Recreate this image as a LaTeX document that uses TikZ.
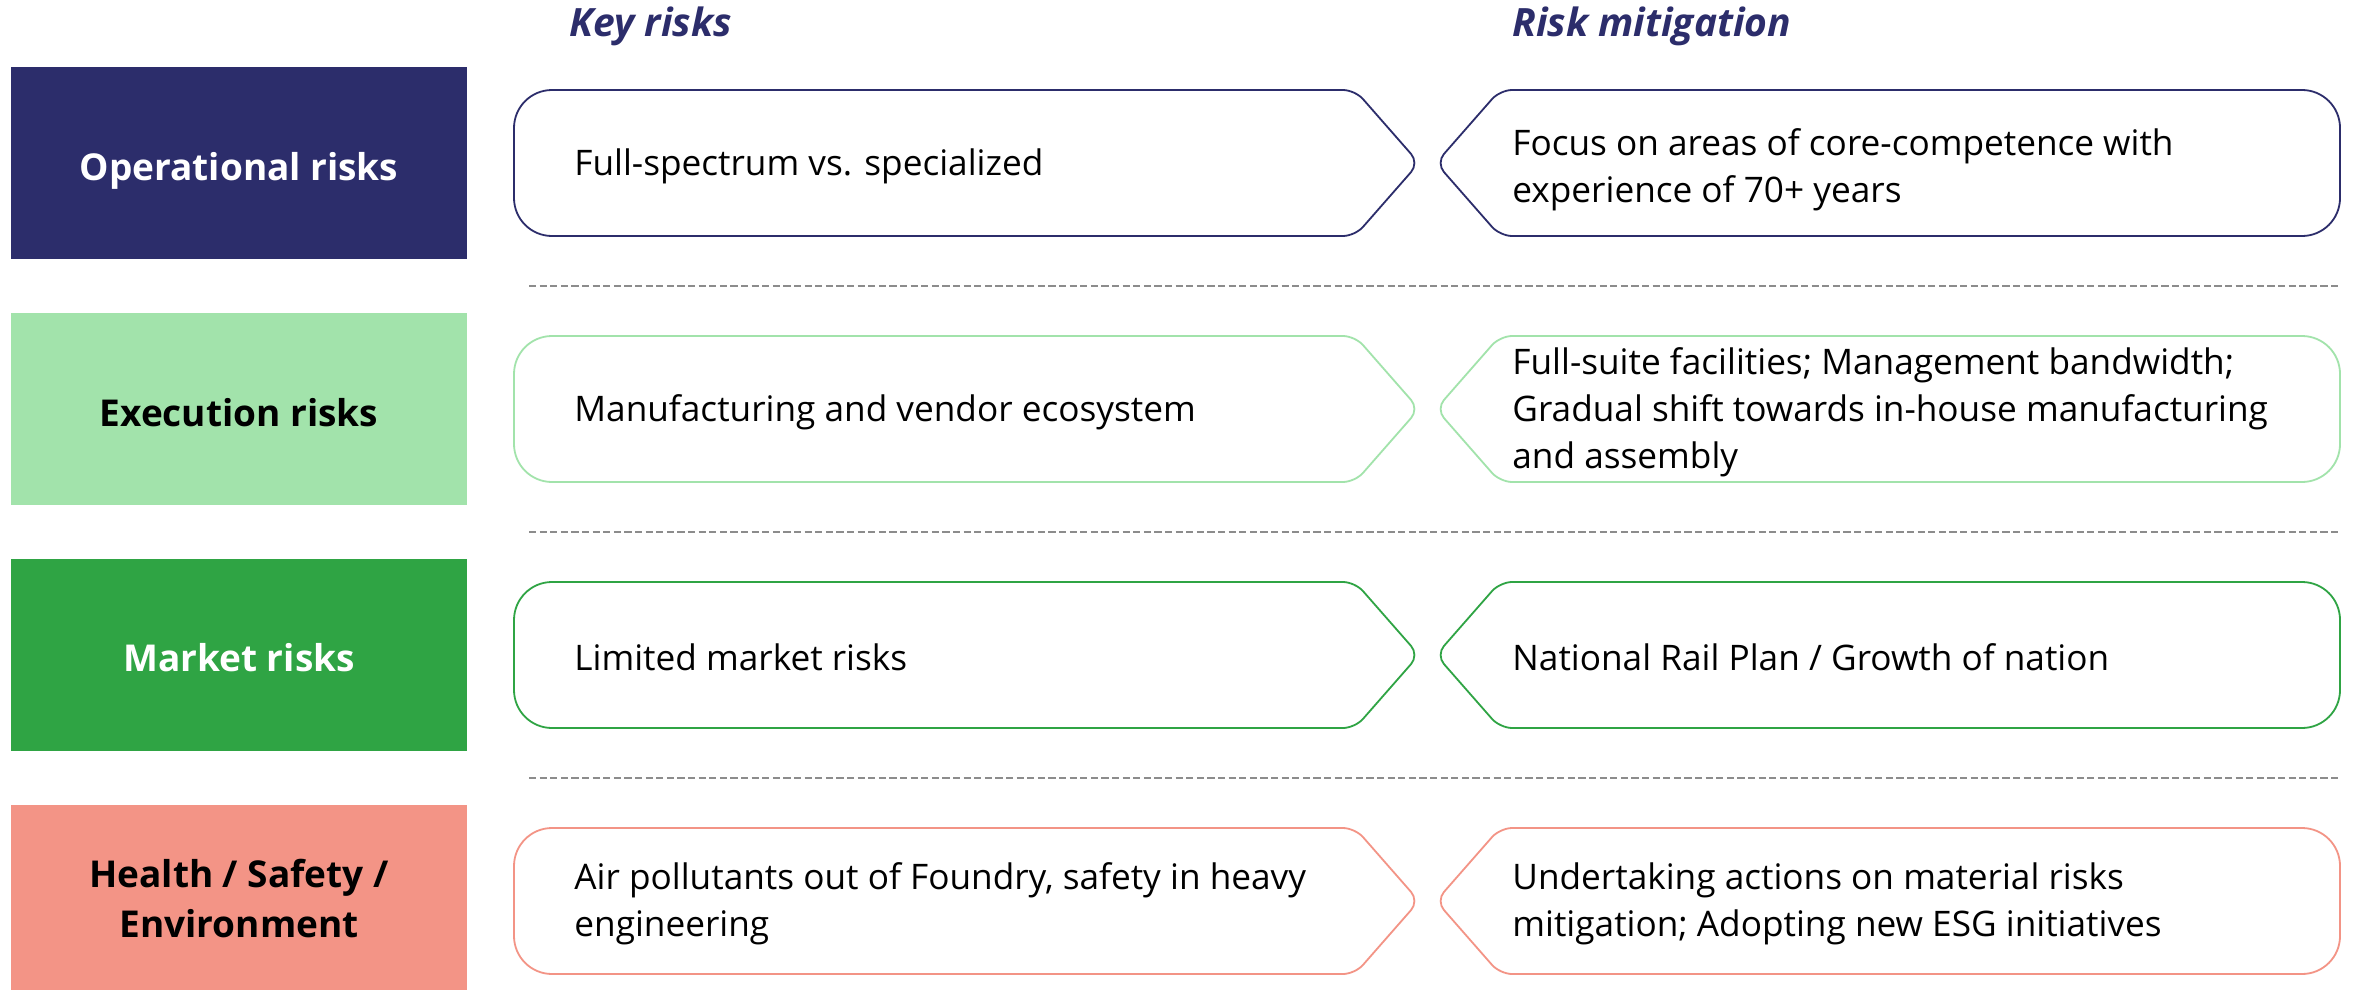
\documentclass[tikz,border=0pt]{standalone}
\usepackage{fontspec}
\setmainfont{Open Sans}
\definecolor{rnavy}{HTML}{2C2D6B}
\definecolor{rlgreen}{HTML}{A2E3AB}
\definecolor{rgreen}{HTML}{2FA444}
\definecolor{rsalmon}{HTML}{F39486}
\definecolor{rsep}{HTML}{8C8C8C}
\newcommand{\rkKeyShape}[4]{%
  \draw[boxline, draw=#1] (514,#4) [rounded corners=19pt] -- (514,#2) -- (900,#2)
    [rounded corners=6pt] -- (1355,#2) -- (1419,#4) -- (1355,#3) -- (900,#3)
    [rounded corners=19pt] -- (514,#3) -- cycle;}
\newcommand{\rkMitShape}[4]{%
  \draw[boxline, draw=#1] (2340,#4) [rounded corners=19pt] -- (2340,#2) -- (1900,#2)
    [rounded corners=6pt] -- (1500,#2) -- (1436,#4) -- (1500,#3) -- (1900,#3)
    [rounded corners=19pt] -- (2340,#3) -- cycle;}
\begin{document}
\begin{tikzpicture}[x=0.5pt,y=-0.5pt,
  catlabel/.style={inner sep=0pt, align=center, font=\fontsize{18.5}{25}\selectfont\bfseries},
  bodytext/.style={inner sep=0pt, anchor=west, align=left, font=\fontsize{17.6}{23.5}\selectfont},
  hdrtext/.style={inner sep=0pt, anchor=base west, text=rnavy, font=\fontsize{19.5}{24}\selectfont\bfseries\itshape},
  sepline/.style={draw=rsep, line width=1.2pt, dash pattern=on 3.6pt off 1.7pt},
  boxline/.style={line width=0.9pt}]
\fill[white] (0,0) rectangle (2354,990);
\useasboundingbox (0,0) rectangle (2354,990);

% headers
\node[hdrtext] (hkey) at (569,37) {Key risks};
\node[hdrtext] (hmit) at (1512,37) {Risk mitigation};

% row 1
\fill[rnavy] (11,67) rectangle (467,259);
\node[catlabel, text=white] (cat1) at (239,171) {Operational risks};
\rkKeyShape{rnavy}{90}{236}{163}
\rkMitShape{rnavy}{90}{236}{163}
\node[bodytext] (key1) at (574,166) {Full-spectrum vs. specialized};
\node[bodytext] (mit1) at (1512,170) {Focus on areas of core-competence with\\experience of 70+ years};

% separator
\coordinate (s1a) at (529,286); \coordinate (s1b) at (2340,286);
\draw[sepline] (s1a) -- (s1b);

% row 2
\fill[rlgreen] (11,313) rectangle (467,505);
\node[catlabel, text=black] (cat2) at (239,413) {Execution risks};
\rkKeyShape{rlgreen}{336}{482}{409}
\rkMitShape{rlgreen}{336}{482}{409}
\node[bodytext] (key2) at (574,412) {Manufacturing and vendor ecosystem};
\node[bodytext] (mit2) at (1512,412) {Full-suite facilities; Management bandwidth;\\Gradual shift towards in-house manufacturing\\and assembly};

\coordinate (s2a) at (529,532); \coordinate (s2b) at (2340,532);
\draw[sepline] (s2a) -- (s2b);

% row 3
\fill[rgreen] (11,559) rectangle (467,751);
\node[catlabel, text=white] (cat3) at (239,658) {Market risks};
\rkKeyShape{rgreen}{582}{728}{655}
\rkMitShape{rgreen}{582}{728}{655}
\node[bodytext] (key3) at (574,657) {Limited market risks};
\node[bodytext] (mit3) at (1512,657) {National Rail Plan / Growth of nation};

\coordinate (s3a) at (529,778); \coordinate (s3b) at (2340,778);
\draw[sepline] (s3a) -- (s3b);

% row 4
\fill[rsalmon] (11,805) rectangle (467,990);
\node[catlabel, text=black] (cat4) at (239,899) {Health / Safety /\\Environment};
\rkKeyShape{rsalmon}{828}{974}{901}
\rkMitShape{rsalmon}{828}{974}{901}
\node[bodytext] (key4) at (574,904) {Air pollutants out of Foundry, safety in heavy\\engineering};
\node[bodytext] (mit4) at (1512,904) {Undertaking actions on material risks\\mitigation; Adopting new ESG initiatives};
\end{tikzpicture}
\end{document}
